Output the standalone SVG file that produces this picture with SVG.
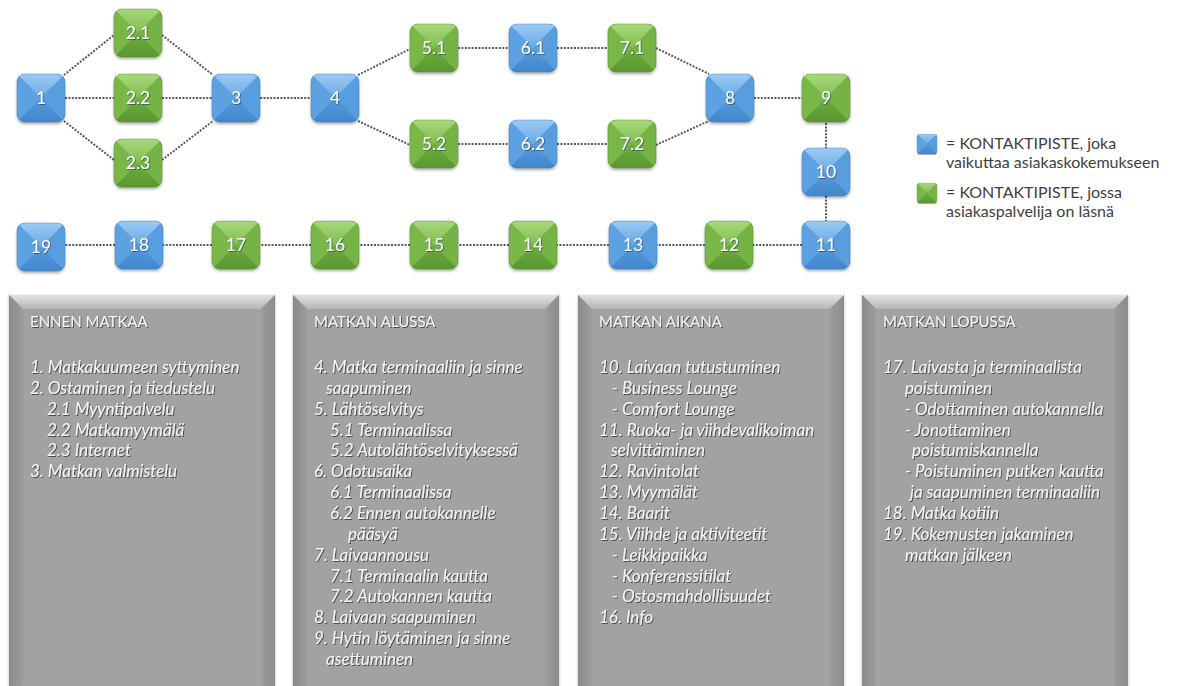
<svg xmlns="http://www.w3.org/2000/svg" xmlns:xlink="http://www.w3.org/1999/xlink" width="1179" height="686" viewBox="0 0 1179 686">
<style>
.lbl{font-family:Lato,"Open Sans","Liberation Sans",sans-serif;font-size:17.5px;fill:#ffffff;text-anchor:middle;filter:url(#tsh)}
.conn line{stroke:#5a5a5a;stroke-width:2;stroke-dasharray:2 1.4;fill:none}
.leg{font-family:Lato,"Open Sans","Liberation Sans",sans-serif;font-size:16px;fill:#404040}
.ph{font-family:Lato,"Open Sans","Liberation Sans",sans-serif;font-size:15px;fill:#f4f4f4;filter:url(#tsh2)}
.pi{font-family:Lato,"Open Sans","Liberation Sans",sans-serif;font-size:17px;font-style:italic;fill:#f4f4f4;filter:url(#tsh2)}
</style>
<defs>
<filter id="sh" x="-30%" y="-30%" width="160%" height="170%"><feDropShadow dx="0" dy="2" stdDeviation="1.5" flood-color="#000" flood-opacity="0.35"/></filter>
<filter id="tsh" x="-20%" y="-20%" width="140%" height="150%"><feDropShadow dx="0.8" dy="0.8" stdDeviation="0.6" flood-color="#1a3350" flood-opacity="0.7"/></filter>
<filter id="tsh2" x="-5%" y="-20%" width="110%" height="150%"><feDropShadow dx="1" dy="1" stdDeviation="0.6" flood-color="#333" flood-opacity="0.75"/></filter>
<filter id="psh" x="-5%" y="-5%" width="110%" height="110%"><feDropShadow dx="0" dy="1" stdDeviation="1.5" flood-color="#000" flood-opacity="0.3"/></filter>
<clipPath id="nclip"><rect x="-24" y="-24" width="48" height="48" rx="8"/></clipPath>
<linearGradient id="bT" x1="0" y1="0" x2="0" y2="1"><stop offset="0" stop-color="#9ccaf2"/><stop offset="1" stop-color="#68aae8"/></linearGradient>
<linearGradient id="bB" x1="0" y1="0" x2="0" y2="1"><stop offset="0" stop-color="#559ade"/><stop offset="1" stop-color="#4286cc"/></linearGradient>
<linearGradient id="gT" x1="0" y1="0" x2="0" y2="1"><stop offset="0" stop-color="#a8d87c"/><stop offset="1" stop-color="#80be50"/></linearGradient>
<linearGradient id="gB" x1="0" y1="0" x2="0" y2="1"><stop offset="0" stop-color="#6cac3e"/><stop offset="1" stop-color="#5a9830"/></linearGradient>
<g id="bn">
<rect x="-24" y="-24" width="48" height="48" rx="8" fill="#5a9fe0" filter="url(#sh)"/>
<g clip-path="url(#nclip)">
<polygon points="-24,-24 24,-24 0,0" fill="url(#bT)"/>
<polygon points="-24,-24 0,0 -24,24" fill="#5ca2e2"/>
<polygon points="24,-24 0,0 24,24" fill="#589edf"/>
<polygon points="-24,24 0,0 24,24" fill="url(#bB)"/>
</g>
<rect x="-24" y="-24" width="48" height="48" rx="8" fill="none" stroke="#3a78b8" stroke-opacity="0.4"/>
</g>
<g id="gn">
<rect x="-24" y="-24" width="48" height="48" rx="8" fill="#78b647" filter="url(#sh)"/>
<g clip-path="url(#nclip)">
<polygon points="-24,-24 24,-24 0,0" fill="url(#gT)"/>
<polygon points="-24,-24 0,0 -24,24" fill="#79b848"/>
<polygon points="24,-24 0,0 24,24" fill="#74b344"/>
<polygon points="-24,24 0,0 24,24" fill="url(#gB)"/>
</g>
<rect x="-24" y="-24" width="48" height="48" rx="8" fill="none" stroke="#4c8a28" stroke-opacity="0.4"/>
</g>
<linearGradient id="pT" x1="0" y1="0" x2="0" y2="1"><stop offset="0" stop-color="#e2e2e2"/><stop offset="1" stop-color="#b4b4b4"/></linearGradient>
<linearGradient id="pL" x1="0" y1="0" x2="1" y2="0"><stop offset="0" stop-color="#8a8a8a"/><stop offset="1" stop-color="#9c9c9c"/></linearGradient>
<linearGradient id="pR" x1="0" y1="0" x2="1" y2="0"><stop offset="0" stop-color="#9c9c9c"/><stop offset="1" stop-color="#8c8c8c"/></linearGradient>
<g id="panel">
<rect x="0" y="0" width="266" height="400" fill="#a2a2a2" filter="url(#psh)"/>
<polygon points="0,0 266,0 252,14 14,14" fill="url(#pT)"/>
<polygon points="0,0 14,14 14,400 0,400" fill="url(#pL)"/>
<polygon points="266,0 266,400 252,400 252,14" fill="url(#pR)"/>
</g>
</defs>
<rect width="1179" height="686" fill="#ffffff"/>

<g id="connectors" class="conn">
<line x1="64" y1="75" x2="114" y2="35"/>
<line x1="65" y1="98" x2="114" y2="98"/>
<line x1="64" y1="121" x2="114" y2="160"/>
<line x1="162" y1="35" x2="213" y2="75"/>
<line x1="162" y1="98" x2="212" y2="98"/>
<line x1="162" y1="160" x2="213" y2="121"/>
<line x1="260" y1="98" x2="311" y2="98"/>
<line x1="358" y1="75" x2="410" y2="49"/>
<line x1="358" y1="121" x2="410" y2="145"/>
<line x1="458" y1="48" x2="509" y2="48"/>
<line x1="458" y1="144" x2="509" y2="144"/>
<line x1="557" y1="48" x2="608" y2="48"/>
<line x1="557" y1="144" x2="608" y2="144"/>
<line x1="656" y1="48" x2="709" y2="74"/>
<line x1="656" y1="145" x2="709" y2="121"/>
<line x1="754" y1="98" x2="802" y2="98"/>
<line x1="826" y1="123" x2="826" y2="148"/>
<line x1="826" y1="196" x2="826" y2="221"/>
<line x1="802" y1="245" x2="753" y2="245"/>
<line x1="705" y1="245" x2="657" y2="245"/>
<line x1="609" y1="245" x2="557" y2="245"/>
<line x1="509" y1="245" x2="458" y2="245"/>
<line x1="410" y1="245" x2="359" y2="245"/>
<line x1="311" y1="245" x2="260" y2="245"/>
<line x1="212" y1="245" x2="163" y2="245"/>
<line x1="115" y1="245" x2="65" y2="245"/>
</g>

<g id="n1" transform="translate(41,98)"><use xlink:href="#bn"/><text class="lbl" y="6">1</text></g>
<g id="n2-1" transform="translate(138,33)"><use xlink:href="#gn"/><text class="lbl" y="6">2.1</text></g>
<g id="n2-2" transform="translate(138,98)"><use xlink:href="#gn"/><text class="lbl" y="6">2.2</text></g>
<g id="n2-3" transform="translate(138,163)"><use xlink:href="#gn"/><text class="lbl" y="6">2.3</text></g>
<g id="n3" transform="translate(236,98)"><use xlink:href="#bn"/><text class="lbl" y="6">3</text></g>
<g id="n4" transform="translate(335,98)"><use xlink:href="#bn"/><text class="lbl" y="6">4</text></g>
<g id="n5-1" transform="translate(434,48)"><use xlink:href="#gn"/><text class="lbl" y="6">5.1</text></g>
<g id="n5-2" transform="translate(434,144)"><use xlink:href="#gn"/><text class="lbl" y="6">5.2</text></g>
<g id="n6-1" transform="translate(533,48)"><use xlink:href="#bn"/><text class="lbl" y="6">6.1</text></g>
<g id="n6-2" transform="translate(533,144)"><use xlink:href="#bn"/><text class="lbl" y="6">6.2</text></g>
<g id="n7-1" transform="translate(632,48)"><use xlink:href="#gn"/><text class="lbl" y="6">7.1</text></g>
<g id="n7-2" transform="translate(632,144)"><use xlink:href="#gn"/><text class="lbl" y="6">7.2</text></g>
<g id="n8" transform="translate(730,98)"><use xlink:href="#bn"/><text class="lbl" y="6">8</text></g>
<g id="n9" transform="translate(826,98)"><use xlink:href="#gn"/><text class="lbl" y="6">9</text></g>
<g id="n10" transform="translate(826,172)"><use xlink:href="#bn"/><text class="lbl" y="6">10</text></g>
<g id="n11" transform="translate(826,245)"><use xlink:href="#bn"/><text class="lbl" y="6">11</text></g>
<g id="n12" transform="translate(729,245)"><use xlink:href="#gn"/><text class="lbl" y="6">12</text></g>
<g id="n13" transform="translate(633,245)"><use xlink:href="#bn"/><text class="lbl" y="6">13</text></g>
<g id="n14" transform="translate(533,245)"><use xlink:href="#gn"/><text class="lbl" y="6">14</text></g>
<g id="n15" transform="translate(434,245)"><use xlink:href="#gn"/><text class="lbl" y="6">15</text></g>
<g id="n16" transform="translate(335,245)"><use xlink:href="#gn"/><text class="lbl" y="6">16</text></g>
<g id="n17" transform="translate(236,245)"><use xlink:href="#gn"/><text class="lbl" y="6">17</text></g>
<g id="n18" transform="translate(139,245)"><use xlink:href="#bn"/><text class="lbl" y="6">18</text></g>
<g id="n19" transform="translate(41,247)"><use xlink:href="#bn"/><text class="lbl" y="6">19</text></g>

<g id="legend">
<g transform="translate(927,144) scale(0.42)"><use xlink:href="#bn"/></g>
<text class="leg" x="946" y="149">= KONTAKTIPISTE, joka</text>
<text class="leg" x="946" y="168">vaikuttaa asiakaskokemukseen</text>
<g transform="translate(927,193) scale(0.42)"><use xlink:href="#gn"/></g>
<text class="leg" x="946" y="198">= KONTAKTIPISTE, jossa</text>
<text class="leg" x="946" y="217">asiakaspalvelija on läsnä</text>
</g>

<g id="panel1">
<use xlink:href="#panel" x="9" y="295"/>
<text class="ph" x="30" y="327">ENNEN MATKAA</text>
<text class="pi" x="30" y="373">1. Matkakuumeen syttyminen</text>
<text class="pi" x="30" y="393.9">2. Ostaminen ja tiedustelu</text>
<text class="pi" x="47" y="414.7">2.1 Myyntipalvelu</text>
<text class="pi" x="47" y="435.6">2.2 Matkamyymälä</text>
<text class="pi" x="47" y="456.4">2.3 Internet</text>
<text class="pi" x="30" y="477.3">3. Matkan valmistelu</text>
</g>

<g id="panel2">
<use xlink:href="#panel" x="293" y="295"/>
<text class="ph" x="314" y="327">MATKAN ALUSSA</text>
<text class="pi" x="314" y="373">4. Matka terminaaliin ja sinne</text>
<text class="pi" x="326" y="393.9">saapuminen</text>
<text class="pi" x="314" y="414.7">5. Lähtöselvitys</text>
<text class="pi" x="330" y="435.6">5.1 Terminaalissa</text>
<text class="pi" x="330" y="456.4">5.2 Autolähtöselvityksessä</text>
<text class="pi" x="314" y="477.3">6. Odotusaika</text>
<text class="pi" x="330" y="498.1">6.1 Terminaalissa</text>
<text class="pi" x="330" y="519">6.2 Ennen autokannelle</text>
<text class="pi" x="348" y="539.8">pääsyä</text>
<text class="pi" x="314" y="560.7">7. Laivaannousu</text>
<text class="pi" x="330" y="581.5">7.1 Terminaalin kautta</text>
<text class="pi" x="330" y="602.4">7.2 Autokannen kautta</text>
<text class="pi" x="314" y="623.2">8. Laivaan saapuminen</text>
<text class="pi" x="314" y="644.1">9. Hytin löytäminen ja sinne</text>
<text class="pi" x="326" y="664.9">asettuminen</text>
</g>

<g id="panel3">
<use xlink:href="#panel" x="578" y="295"/>
<text class="ph" x="599" y="327">MATKAN AIKANA</text>
<text class="pi" x="599" y="373">10. Laivaan tutustuminen</text>
<text class="pi" x="612" y="393.9">- Business Lounge</text>
<text class="pi" x="612" y="414.7">- Comfort Lounge</text>
<text class="pi" x="599" y="435.6">11. Ruoka- ja viihdevalikoiman</text>
<text class="pi" x="611" y="456.4">selvittäminen</text>
<text class="pi" x="599" y="477.3">12. Ravintolat</text>
<text class="pi" x="599" y="498.1">13. Myymälät</text>
<text class="pi" x="599" y="519">14. Baarit</text>
<text class="pi" x="599" y="539.8">15. Viihde ja aktiviteetit</text>
<text class="pi" x="612" y="560.7">- Leikkipaikka</text>
<text class="pi" x="612" y="581.5">- Konferenssitilat</text>
<text class="pi" x="612" y="602.4">- Ostosmahdollisuudet</text>
<text class="pi" x="599" y="623.2">16. Info</text>
</g>

<g id="panel4">
<use xlink:href="#panel" x="862" y="295"/>
<text class="ph" x="883" y="327">MATKAN LOPUSSA</text>
<text class="pi" x="883" y="373">17. Laivasta ja terminaalista</text>
<text class="pi" x="905" y="393.9">poistuminen</text>
<text class="pi" x="905" y="414.7">- Odottaminen autokannella</text>
<text class="pi" x="905" y="435.6">- Jonottaminen</text>
<text class="pi" x="912" y="456.4">poistumiskannella</text>
<text class="pi" x="905" y="477.3">- Poistuminen putken kautta</text>
<text class="pi" x="910" y="498.1">ja saapuminen terminaaliin</text>
<text class="pi" x="883" y="519">18. Matka kotiin</text>
<text class="pi" x="883" y="539.8">19. Kokemusten jakaminen</text>
<text class="pi" x="905" y="560.7">matkan jälkeen</text>
</g>
</svg>
